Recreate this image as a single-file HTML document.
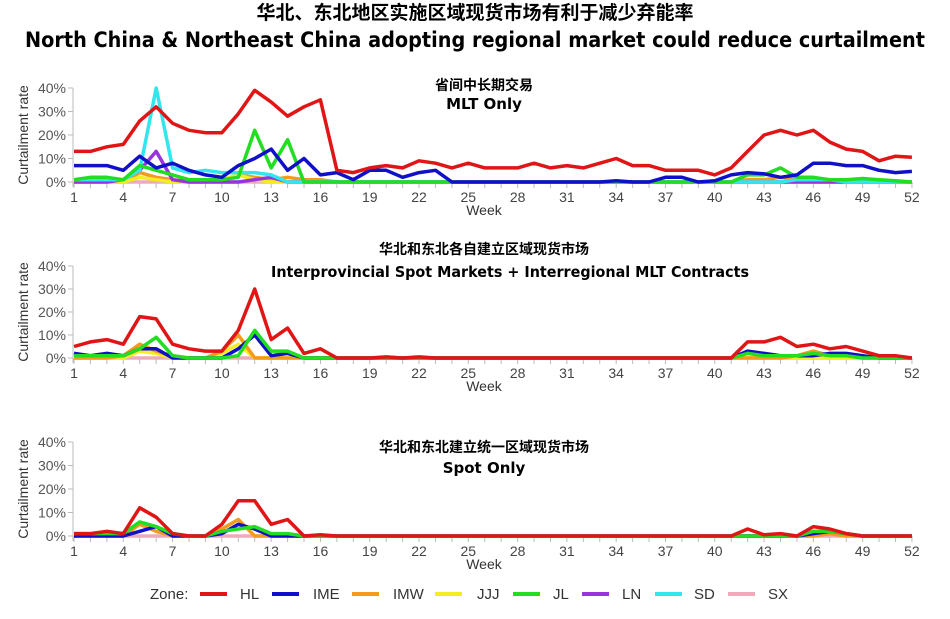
<!DOCTYPE html>
<html><head><meta charset="utf-8"><style>
body{margin:0;background:#fff;width:950px;height:619px;overflow:hidden}
svg{display:block}
</style></head><body>
<svg id="s" width="950" height="619" xmlns="http://www.w3.org/2000/svg" font-family="Liberation Sans, Noto Sans CJK SC, sans-serif">
<text x="475" y="19" text-anchor="middle" font-size="19" font-weight="bold" font-family="Noto Sans CJK SC, sans-serif">华北、东北地区实施区域现货市场有利于减少弃能率</text>
<text x="475" y="47" text-anchor="middle" font-size="21" font-weight="bold" font-family="DejaVu Sans, sans-serif" textLength="900" lengthAdjust="spacingAndGlyphs">North China &amp; Northeast China adopting regional market could reduce curtailment</text>
<text x="484" y="90" text-anchor="middle" font-size="14" font-weight="bold" font-family="Noto Sans CJK SC, sans-serif">省间中长期交易</text>
<text x="484" y="109" text-anchor="middle" font-size="15" font-weight="bold" font-family="DejaVu Sans, sans-serif">MLT Only</text>
<text x="484" y="254" text-anchor="middle" font-size="14" font-weight="bold" font-family="Noto Sans CJK SC, sans-serif">华北和东北各自建立区域现货市场</text>
<text x="510" y="277" text-anchor="middle" font-size="15" font-weight="bold" font-family="DejaVu Sans, sans-serif" textLength="478" lengthAdjust="spacingAndGlyphs">Interprovincial Spot Markets + Interregional MLT Contracts</text>
<text x="484" y="452" text-anchor="middle" font-size="14" font-weight="bold" font-family="Noto Sans CJK SC, sans-serif">华北和东北建立统一区域现货市场</text>
<text x="484" y="473" text-anchor="middle" font-size="15" font-weight="bold" font-family="DejaVu Sans, sans-serif">Spot Only</text>
<g id="g"></g>
<g font-size="15" fill="#333">
<text x="150" y="599">Zone:</text>
</g>
</svg>
<script>
var g=document.getElementById('g');var ns='http://www.w3.org/2000/svg';
function el(t,a,txt){var e=document.createElementNS(ns,t);for(var k in a)e.setAttribute(k,a[k]);if(txt!=null)e.textContent=txt;g.appendChild(e);return e;}
function pad(a){while(a.length<52)a.push(0);return a;}
function z(n){return new Array(n).fill(0);}
var C={HL:'#e01515',IME:'#1010c8',IMW:'#f59a1a',JJJ:'#f2ee20',JL:'#22dd22',LN:'#9933dd',SD:'#33e6ee',SX:'#eeaabb'};
var plots=[
{y0:182,y40:88,d:{
SX:z(52),
IMW:pad([0,0,0,0,4,2,1,0,0,1,3,2,1,2,1,1]).map(function(v,i){return (i>=41&&i<=45)?[1,1,2,1,0][i-41]:v}),
JJJ:pad([0,0,0,0,2,1,0,0,0,1,3,1,0,0]),
LN:pad([0,0,0,1,5,13,1,0,0,0,0,1,2,0]),
SD:pad([1,1,1,1,5,40,6,4,5,4,4,4,3,0]).map(function(v,i){return (i>=44&&i<=46)?1:v}),
JL:pad([1,2,2,1,7,5,3,1,1,1,2,22,6,18,0]).map(function(v,i){var m={40:0,41:3,42:3,43:6,44:2,45:2,46:1,47:1,48:1.5,49:1,50:0.5,51:0};return (i in m)?m[i]:v}),
IME:[7,7,7,5,11,6,8,5,3,2,7,10,14,5,10,3,4,1,5,5,2,4,5,0,0,0,0,0,0,0,0,0,0,0.5,0,0,2,2,0,0.5,3,4,3.5,2,3,8,8,7,7,5,4,4.5],
HL:[13,13,15,16,26,32,25,22,21,21,29,39,34,28,32,35,5,4,6,7,6,9,8,6,8,6,6,6,8,6,7,6,8,10,7,7,5,5,5,3,6,13,20,22,20,22,17,14,13,9,11,10.5]}},
{y0:358,y40:266,d:{
SX:z(52),
JJJ:pad([0,0,0,0,3,2,0,0,0,2,6,0]),
IMW:pad([0,0,0,1,6,3,1,0,0,3,10,0]).map(function(v,i){var m={44:1,45:3,46:1,47:1};return (i in m)?m[i]:v}),
IME:pad([2,1,2,1,4,4,0,0,0,0,4,10,1,2,0]).map(function(v,i){var m={41:3,42:2,43:1,44:1,45:1,46:2,47:2,48:1};return (i in m)?m[i]:v}),
JL:pad([1,1,1,1,4,9,1,0,0,0,1,12,3,3,0]).map(function(v,i){var m={41:2,42:1,43:1,44:1,45:2,46:1,47:1};return (i in m)?m[i]:v}),
HL:pad([5,7,8,6,18,17,6,4,3,3,12,30,8,13,2,4,0,0,0,0.5,0,0.5]).map(function(v,i){var m={40:0,41:7,42:7,43:9,44:5,45:6,46:4,47:5,48:3,49:1,50:1,51:0};return (i in m)?m[i]:v})}},
{y0:536,y40:442,d:{
SX:z(52),
IMW:pad([0,0,0,0,5,2,0,0,0,3,7,0]).map(function(v,i){return i==46?1:v}),
IME:pad([0,0,0,0,2,4,0,0,0,1,5,3,0]).map(function(v,i){var m={45:1,46:2,47:1};return (i in m)?m[i]:v}),
JL:pad([1,1,1,1,6,4,1,0,0,2,3,4,1,1,0]).map(function(v,i){var m={45:2,46:2,47:1};return (i in m)?m[i]:v}),
HL:pad([1,1,2,1,12,8,1,0,0,5,15,15,5,7,0,0.5]).map(function(v,i){var m={41:3,42:0.5,43:1,44:0,45:4,46:3,47:1};return (i in m)?m[i]:v})}}
];
function X(w){return 74+(w-1)*16.43;}
plots.forEach(function(p){
 var sc=(p.y0-p.y40)/40;
 el('line',{x1:73,y1:p.y40,x2:73,y2:p.y0+5,stroke:'#bbb'});
 el('line',{x1:73,y1:p.y0+1,x2:913,y2:p.y0+1,stroke:'#bbb'});
 for(var t=0;t<=40;t+=10){var yy=p.y0-t*sc;el('line',{x1:68,y1:yy,x2:73,y2:yy,stroke:'#bbb'});el('text',{x:66,y:yy+5,'text-anchor':'end','font-size':14,fill:'#555'},t+'%');}
 for(var w=1;w<=52;w++){el('line',{x1:X(w),y1:p.y0+1,x2:X(w),y2:p.y0+6,stroke:'#bbb'});if((w-1)%3==0)el('text',{x:X(w),y:p.y0+20,'text-anchor':'middle','font-size':14,fill:'#444'},w);}
 el('text',{x:484,y:p.y0+33,'text-anchor':'middle','font-size':14,fill:'#333'},'Week');
 var cy=(p.y0+p.y40)/2;
 el('text',{x:28,y:cy,'text-anchor':'middle','font-size':14,fill:'#333',transform:'rotate(-90 28 '+cy+')'},'Curtailment rate');
 for(var k in p.d){var a=p.d[k],pts=[];for(var i=0;i<52;i++)pts.push(X(i+1).toFixed(1)+','+(p.y0-a[i]*sc).toFixed(1));
  el('polyline',{points:pts.join(' '),fill:'none',stroke:C[k],'stroke-width':3.5,'stroke-linejoin':'round'});}
});
var L=[['HL',200,240],['IME',272,313],['IMW',352,393],['JJJ',435,477],['JL',513,553],['LN',582,622],['SD',655,694],['SX',728,768]];
L.forEach(function(l){el('line',{x1:l[1],y1:594,x2:l[1]+27,y2:594,stroke:C[l[0]],'stroke-width':4});el('text',{x:l[2],y:599,'font-size':15,fill:'#333'},l[0]);});
</script>
</body></html>
